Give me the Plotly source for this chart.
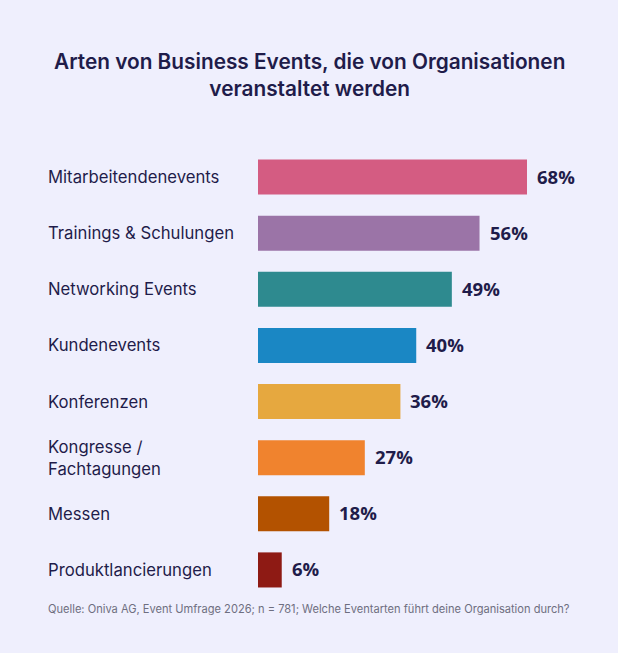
import plotly.graph_objects as go

categories = ["Mitarbeitendenevents", "Trainings & Schulungen", "Networking Events",
              "Kundenevents", "Konferenzen", "Kongresse /<br>Fachtagungen", "Messen",
              "Produktlancierungen"]
values = [68, 56, 49, 40, 36, 27, 18, 6]
colors = ["#D45C82", "#9B74A7", "#2E8A8F", "#1A87C4", "#E6A83F", "#F0832E", "#B35200", "#8E1A14"]

BG = "#EFEFFD"
TXT = "#1F1C4A"

W, H = 618, 653
ML, MR, MT, MB = 258, 0, 149, 55
pw = W - ML - MR
plot_h = H - MT - MB
xmax = pw / (269 / 68)


def px_x(xpix):
    return (xpix - ML) / pw


def px_y(ypix):
    return (H - MB - ypix) / plot_h


fig = go.Figure(go.Bar(
    x=values, y=list(range(len(categories))), orientation="h",
    marker=dict(color=colors, line=dict(width=0)), width=0.625,
    hoverinfo="skip",
))

ann = []
for i, (c, v) in enumerate(zip(categories, values)):
    ann.append(dict(x=px_x(46), xref="paper", y=i, yref="y", text=c,
                    xanchor="left", yanchor="middle", showarrow=False, align="left",
                    font=dict(family="Inter", size=16.7, color=TXT)))
    ann.append(dict(x=v, xref="x", y=i, yref="y", text=f"{v}%", xanchor="left",
                    yanchor="middle", xshift=8, yshift=1, showarrow=False,
                    font=dict(family="Open Sans", size=18.5, color=TXT, weight="bold")))

ann.append(dict(x=px_x(W / 2), xref="paper", y=px_y(75), yref="paper",
                text="Arten von Business Events, die von Organisationen<br>veranstaltet werden",
                showarrow=False, xanchor="center", yanchor="middle", align="center",
                font=dict(family="Inter", size=20.8, color=TXT, weight=600)))
ann.append(dict(x=px_x(W / 2), xref="paper", y=px_y(609), yref="paper",
                text="Quelle: Oniva AG, Event Umfrage 2026; n = 781; Welche Eventarten führt deine Organisation durch?",
                showarrow=False, xanchor="center", yanchor="middle",
                font=dict(family="Inter", size=11.1, color="#6E6E80")))

fig.update_layout(
    width=W, height=H, paper_bgcolor=BG, plot_bgcolor=BG,
    margin=dict(l=ML, r=MR, t=MT, b=MB),
    xaxis=dict(range=[0, xmax], visible=False, fixedrange=True),
    yaxis=dict(range=[len(categories) - 0.5, -0.5], visible=False, fixedrange=True),
    showlegend=False,
    annotations=ann,
)

fig.write_html("out.html")
